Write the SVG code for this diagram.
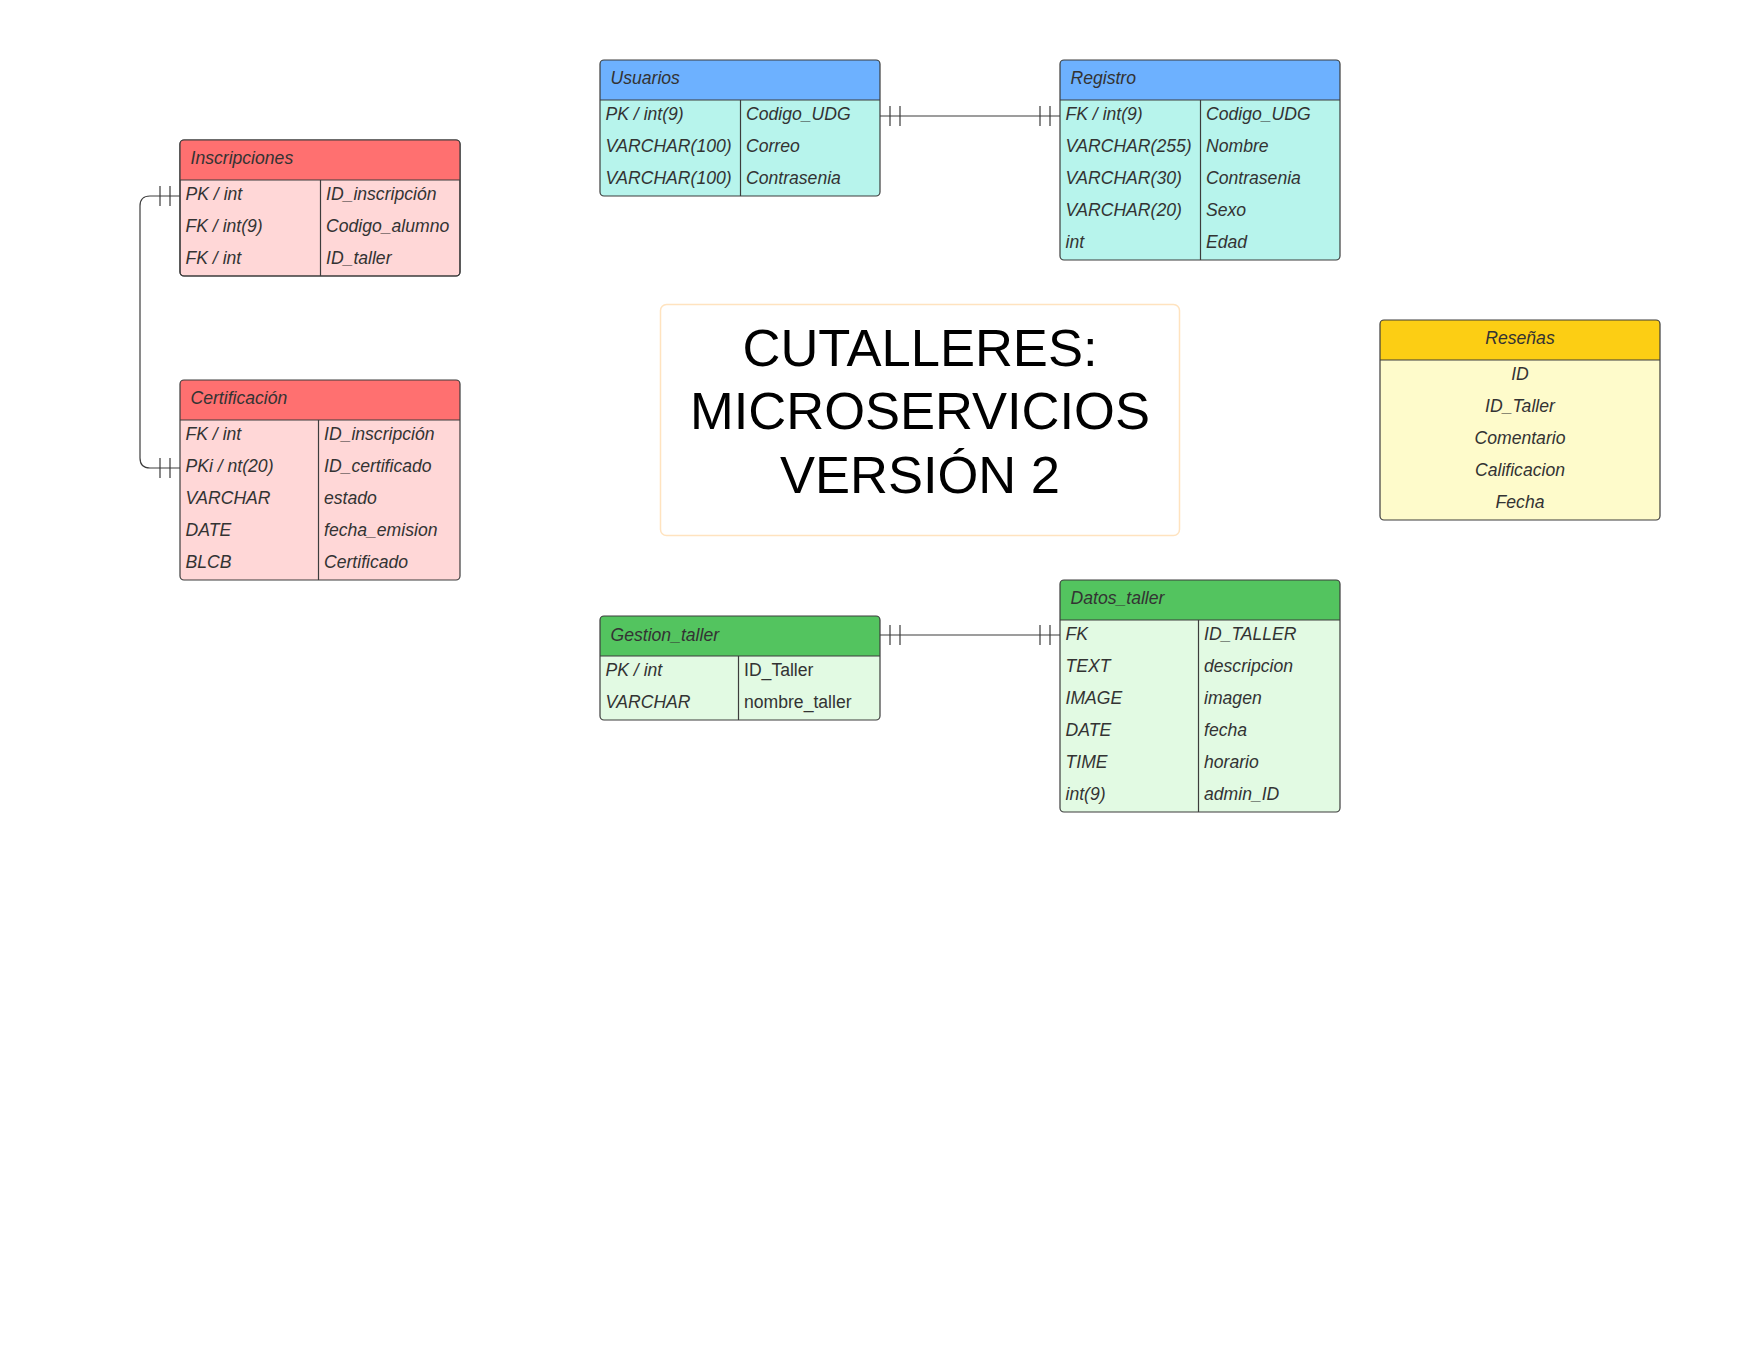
<svg xmlns="http://www.w3.org/2000/svg" width="1760" height="1360" viewBox="0 0 1760 1360">
<style>
.box{stroke:#3d3d3d;stroke-width:1.2}
.div{stroke:#3d3d3d;stroke-width:1.2}
.t{font-family:"Liberation Sans",Arial,sans-serif;font-size:17.6px;fill:#333;font-style:italic}
.n{font-style:normal}
.c{text-anchor:middle}
.conn{fill:none;stroke:#3d3d3d;stroke-width:1.2}
.title{font-family:"Liberation Sans",Arial,sans-serif;font-size:52.5px;fill:#000;text-anchor:middle}
</style>
<rect width="1760" height="1360" fill="#fff"/>

<g id="connectors">
  <path class="conn" d="M880,116 H1060 M890,106 V126 M900,106 V126 M1040,106 V126 M1050,106 V126"/>
  <path class="conn" d="M880,635 H1060 M890,625 V645 M900,625 V645 M1040,625 V645 M1050,625 V645"/>
  <path class="conn" d="M180,196 H150 Q140,196 140,206 V458 Q140,468 150,468 H180 M160,186 V206 M170,186 V206 M160,458 V478 M170,458 V478"/>
</g>

<g id="inscripciones">
  <rect class="box" x="180" y="140" width="280" height="136" rx="4" fill="#FFD7D7"/>
  <path d="M184,140 H456 Q460,140 460,144 V180 H180 V144 Q180,140 184,140 Z" fill="#FF7070"/>
  <rect x="180" y="140" width="280" height="136" rx="4" fill="none" class="box"/>
  <line class="div" x1="180" y1="180" x2="460" y2="180"/>
  <line class="div" x1="320.5" y1="180" x2="320.5" y2="276"/>
  <text class="t" x="190.5" y="164">Inscripciones</text>
  <text class="t" x="185.5" y="200">PK / int</text>
  <text class="t" x="326" y="200">ID_inscripción</text>
  <text class="t" x="185.5" y="232">FK / int(9)</text>
  <text class="t" x="326" y="232">Codigo_alumno</text>
  <text class="t" x="185.5" y="264">FK / int</text>
  <text class="t" x="326" y="264">ID_taller</text>
</g>

<g id="certificacion">
  <rect x="180" y="380" width="280" height="200" rx="4" fill="#FFD7D7"/>
  <path d="M184,380 H456 Q460,380 460,384 V420 H180 V384 Q180,380 184,380 Z" fill="#FF7070"/>
  <rect x="180" y="380" width="280" height="200" rx="4" fill="none" class="box"/>
  <line class="div" x1="180" y1="420" x2="460" y2="420"/>
  <line class="div" x1="318.5" y1="420" x2="318.5" y2="580"/>
  <text class="t" x="190.5" y="404">Certificación</text>
  <text class="t" x="185.5" y="440">FK / int</text>
  <text class="t" x="324" y="440">ID_inscripción</text>
  <text class="t" x="185.5" y="472">PKi / nt(20)</text>
  <text class="t" x="324" y="472">ID_certificado</text>
  <text class="t" x="185.5" y="504">VARCHAR</text>
  <text class="t" x="324" y="504">estado</text>
  <text class="t" x="185.5" y="536">DATE</text>
  <text class="t" x="324" y="536">fecha_emision</text>
  <text class="t" x="185.5" y="568">BLCB</text>
  <text class="t" x="324" y="568">Certificado</text>
</g>

<g id="usuarios">
  <rect x="600" y="60" width="280" height="136" rx="4" fill="#B7F4EC"/>
  <path d="M604,60 H876 Q880,60 880,64 V100 H600 V64 Q600,60 604,60 Z" fill="#6DB1FF"/>
  <rect x="600" y="60" width="280" height="136" rx="4" fill="none" class="box"/>
  <line class="div" x1="600" y1="100" x2="880" y2="100"/>
  <line class="div" x1="740.5" y1="100" x2="740.5" y2="196"/>
  <text class="t" x="610.5" y="84">Usuarios</text>
  <text class="t" x="605.5" y="120">PK / int(9)</text>
  <text class="t" x="746" y="120">Codigo_UDG</text>
  <text class="t" x="605.5" y="152">VARCHAR(100)</text>
  <text class="t" x="746" y="152">Correo</text>
  <text class="t" x="605.5" y="184">VARCHAR(100)</text>
  <text class="t" x="746" y="184">Contrasenia</text>
</g>

<g id="registro">
  <rect x="1060" y="60" width="280" height="200" rx="4" fill="#B7F4EC"/>
  <path d="M1064,60 H1336 Q1340,60 1340,64 V100 H1060 V64 Q1060,60 1064,60 Z" fill="#6DB1FF"/>
  <rect x="1060" y="60" width="280" height="200" rx="4" fill="none" class="box"/>
  <line class="div" x1="1060" y1="100" x2="1340" y2="100"/>
  <line class="div" x1="1200.5" y1="100" x2="1200.5" y2="260"/>
  <text class="t" x="1070.5" y="84">Registro</text>
  <text class="t" x="1065.5" y="120">FK / int(9)</text>
  <text class="t" x="1206" y="120">Codigo_UDG</text>
  <text class="t" x="1065.5" y="152">VARCHAR(255)</text>
  <text class="t" x="1206" y="152">Nombre</text>
  <text class="t" x="1065.5" y="184">VARCHAR(30)</text>
  <text class="t" x="1206" y="184">Contrasenia</text>
  <text class="t" x="1065.5" y="216">VARCHAR(20)</text>
  <text class="t" x="1206" y="216">Sexo</text>
  <text class="t" x="1065.5" y="248">int</text>
  <text class="t" x="1206" y="248">Edad</text>
</g>

<g id="titulo">
  <rect x="660.5" y="304.5" width="519" height="231" rx="6" fill="#fff" stroke="#FFE3BF" stroke-width="1.5"/>
  <text class="title" x="920" y="366">CUTALLERES:</text>
  <text class="title" x="920" y="429">MICROSERVICIOS</text>
  <text class="title" x="920" y="493">VERSIÓN 2</text>
</g>

<g id="resenas">
  <rect x="1380" y="320" width="280" height="200" rx="4" fill="#FEFBCB"/>
  <path d="M1384,320 H1656 Q1660,320 1660,324 V360 H1380 V324 Q1380,320 1384,320 Z" fill="#FCCE14"/>
  <rect x="1380" y="320" width="280" height="200" rx="4" fill="none" class="box"/>
  <line class="div" x1="1380" y1="360" x2="1660" y2="360"/>
  <text class="t c" x="1520" y="344">Reseñas</text>
  <text class="t c" x="1520" y="380">ID</text>
  <text class="t c" x="1520" y="412">ID_Taller</text>
  <text class="t c" x="1520" y="444">Comentario</text>
  <text class="t c" x="1520" y="476">Calificacion</text>
  <text class="t c" x="1520" y="508">Fecha</text>
</g>

<g id="gestion_taller">
  <rect x="600" y="616" width="280" height="104" rx="4" fill="#E2FAE3"/>
  <path d="M604,616 H876 Q880,616 880,620 V656 H600 V620 Q600,616 604,616 Z" fill="#53C45F"/>
  <rect x="600" y="616" width="280" height="104" rx="4" fill="none" class="box"/>
  <line class="div" x1="600" y1="656" x2="880" y2="656"/>
  <line class="div" x1="738.5" y1="656" x2="738.5" y2="720"/>
  <text class="t" x="610.5" y="641">Gestion_taller</text>
  <text class="t" x="605.5" y="676">PK / int</text>
  <text class="t n" x="744" y="676">ID_Taller</text>
  <text class="t" x="605.5" y="708">VARCHAR</text>
  <text class="t n" x="744" y="708">nombre_taller</text>
</g>

<g id="datos_taller">
  <rect x="1060" y="580" width="280" height="232" rx="4" fill="#E2FAE3"/>
  <path d="M1064,580 H1336 Q1340,580 1340,584 V620 H1060 V584 Q1060,580 1064,580 Z" fill="#53C45F"/>
  <rect x="1060" y="580" width="280" height="232" rx="4" fill="none" class="box"/>
  <line class="div" x1="1060" y1="620" x2="1340" y2="620"/>
  <line class="div" x1="1198.5" y1="620" x2="1198.5" y2="812"/>
  <text class="t" x="1070.5" y="604">Datos_taller</text>
  <text class="t" x="1065.5" y="640">FK</text>
  <text class="t" x="1204" y="640">ID_TALLER</text>
  <text class="t" x="1065.5" y="672">TEXT</text>
  <text class="t" x="1204" y="672">descripcion</text>
  <text class="t" x="1065.5" y="704">IMAGE</text>
  <text class="t" x="1204" y="704">imagen</text>
  <text class="t" x="1065.5" y="736">DATE</text>
  <text class="t" x="1204" y="736">fecha</text>
  <text class="t" x="1065.5" y="768">TIME</text>
  <text class="t" x="1204" y="768">horario</text>
  <text class="t" x="1065.5" y="800">int(9)</text>
  <text class="t" x="1204" y="800">admin_ID</text>
</g>
</svg>
